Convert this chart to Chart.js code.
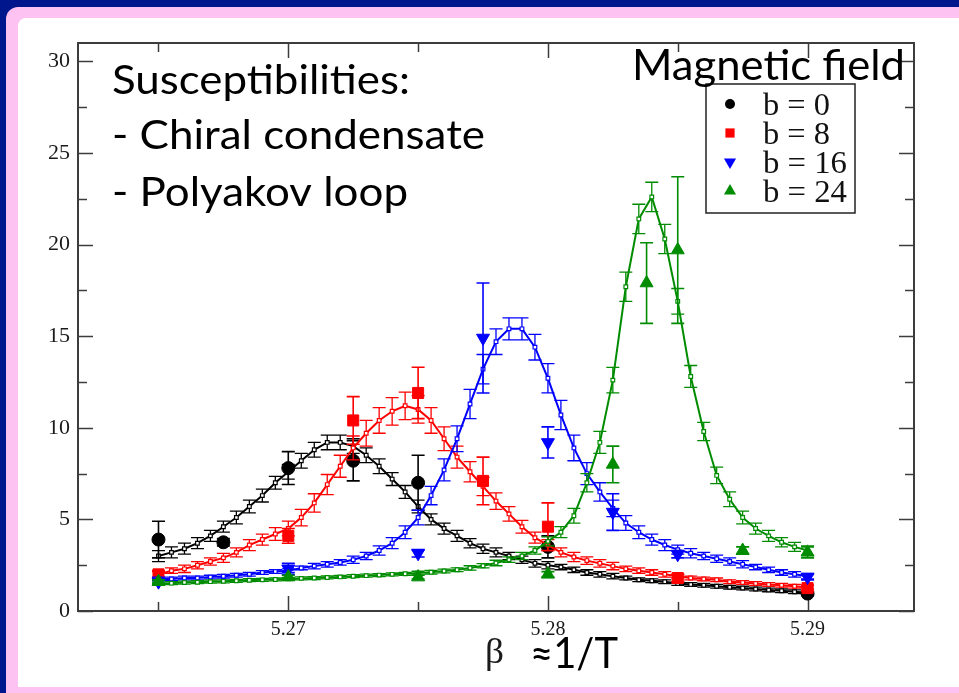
<!DOCTYPE html>
<html>
<head>
<meta charset="utf-8">
<script src="https://cdn.jsdelivr.net/npm/chart.js@4.4.1/dist/chart.umd.min.js"></script>
<style>
  html, body { margin: 0; padding: 0; background: #00168c; overflow: hidden; }
  canvas { display: block; }
</style>
</head>
<body>
<canvas id="chart" width="959" height="693"></canvas>
<script>
// beta grid of the reweighted susceptibility curves
const curveBeta = [5.265,5.2655,5.266,5.2665,5.267,5.2675,5.268,5.2685,5.269,5.2695,
                   5.27,5.2705,5.271,5.2715,5.272,5.2725,5.273,5.2735,5.274,5.2745,
                   5.275,5.2755,5.276,5.2765,5.277,5.2775,5.278,5.2785,5.279,5.2795,
                   5.28,5.2805,5.281,5.2815,5.282,5.2825,5.283,5.2835,5.284,5.2845,
                   5.285,5.2855,5.286,5.2865,5.287,5.2875,5.288,5.2885,5.289,5.2895,
                   5.29];

// reweighted curves and their errors, one per magnetic field
const curveB0 = [3.0,3.2,3.4,3.7,4.1,4.6,5.1,5.7,6.3,7.0,
                 7.6,8.2,8.8,9.2,9.2,9.0,8.5,7.9,7.2,6.5,
                 5.7,5.0,4.5,4.1,3.7,3.4,3.2,3.0,2.8,2.6,
                 2.5,2.4,2.25,2.1,2.0,1.9,1.8,1.7,1.65,1.6,
                 1.5,1.45,1.4,1.35,1.3,1.25,1.2,1.15,1.1,1.05,
                 1.0];
const curveB0Err = [0.3,0.3,0.3,0.3,0.3,0.3,0.35,0.35,0.35,0.35,
                    0.4,0.4,0.4,0.4,0.4,0.4,0.4,0.4,0.35,0.35,
                    0.35,0.3,0.3,0.3,0.25,0.25,0.25,0.2,0.2,0.2,
                    0.2,0.15,0.15,0.15,0.15,0.15,0.1,0.1,0.1,0.1,
                    0.1,0.1,0.1,0.1,0.1,0.1,0.1,0.1,0.1,0.1,
                    0.1];

const curveB8 = [2.0,2.2,2.3,2.5,2.7,2.9,3.2,3.6,3.9,4.2,
                 4.5,5.1,5.9,6.9,7.9,8.9,9.7,10.4,10.9,11.2,
                 11.0,10.4,9.4,8.4,7.6,6.8,6.0,5.3,4.6,4.0,
                 3.6,3.2,2.95,2.75,2.6,2.45,2.3,2.2,2.1,2.0,
                 1.9,1.8,1.75,1.7,1.6,1.55,1.5,1.45,1.4,1.35,
                 1.3];
const curveB8Err = [0.15,0.15,0.2,0.2,0.2,0.25,0.25,0.3,0.3,0.35,
                    0.4,0.45,0.5,0.55,0.6,0.65,0.7,0.7,0.75,0.75,
                    0.75,0.7,0.65,0.6,0.55,0.5,0.45,0.4,0.35,0.3,
                    0.3,0.25,0.25,0.2,0.2,0.2,0.15,0.15,0.15,0.15,
                    0.1,0.1,0.1,0.1,0.1,0.1,0.1,0.1,0.1,0.1,
                    0.1];

const curveB16 = [1.75,1.75,1.8,1.8,1.85,1.9,1.95,2.0,2.1,2.15,
                  2.2,2.35,2.45,2.55,2.65,2.8,3.0,3.3,3.7,4.3,
                  5.1,6.3,7.7,9.4,11.3,13.2,14.7,15.4,15.4,14.4,
                  12.7,10.7,8.9,7.5,6.5,5.6,4.8,4.3,3.9,3.6,
                  3.35,3.15,3.0,2.85,2.7,2.55,2.4,2.25,2.1,2.0,
                  1.9];
const curveB16Err = [0.1,0.1,0.1,0.1,0.1,0.1,0.1,0.1,0.1,0.1,
                     0.1,0.1,0.15,0.15,0.15,0.2,0.2,0.25,0.3,0.35,
                     0.4,0.5,0.6,0.7,0.8,0.8,0.7,0.6,0.6,0.7,
                     0.8,0.8,0.7,0.6,0.5,0.45,0.4,0.35,0.3,0.3,
                     0.25,0.25,0.2,0.2,0.2,0.2,0.15,0.15,0.15,0.15,
                     0.15];

const curveB24 = [1.5,1.52,1.55,1.57,1.6,1.62,1.65,1.68,1.7,1.72,
                  1.75,1.78,1.8,1.83,1.86,1.9,1.93,1.96,2.0,2.03,
                  2.07,2.12,2.18,2.25,2.35,2.47,2.62,2.8,3.0,3.3,
                  3.8,4.3,5.2,7.0,9.2,12.6,17.7,21.4,22.6,20.3,
                  16.9,12.8,9.8,7.4,6.1,5.1,4.5,4.1,3.75,3.5,
                  3.3];
const curveB24Err = [0.08,0.08,0.08,0.08,0.08,0.08,0.08,0.08,0.08,0.08,
                     0.08,0.08,0.08,0.08,0.08,0.08,0.08,0.08,0.08,0.08,
                     0.1,0.1,0.1,0.1,0.12,0.12,0.15,0.15,0.2,0.2,
                     0.25,0.3,0.4,0.5,0.6,0.7,0.8,0.8,0.8,0.8,
                     0.7,0.6,0.5,0.45,0.4,0.35,0.3,0.3,0.25,0.25,
                     0.25];

// simulation points with statistical errors
const simBetaB0 = [5.265, 5.2675, 5.27, 5.2725, 5.275, 5.28, 5.29];
const simB0     = [3.9,   3.75,   7.8,  8.2,    7.0,   3.5,  0.95];
const simB0Err  = [1.0,   0.2,    0.9,  1.1,    1.5,   0.6,  0.1];

const simBetaB8 = [5.265, 5.27, 5.2725, 5.275, 5.2775, 5.28, 5.285, 5.29];
const simB8     = [2.0,   4.1,  10.4,   11.9,  7.1,    4.6,  1.8,   1.25];
const simB8Err  = [0.2,   0.4,  1.3,    1.4,   1.3,    1.3,  0.2,   0.15];

const simBetaB16 = [5.265, 5.27, 5.275, 5.2775, 5.28, 5.2825, 5.285, 5.29];
const simB16     = [1.6,   2.3,  3.15,  14.9,   9.2,  5.4,    3.1,   1.85];
const simB16Err  = [0.1,   0.3,  0.2,   3.0,    0.85, 1.0,    0.2,   0.15];

const simBetaB24 = [5.265, 5.27, 5.275, 5.28, 5.2825, 5.2838, 5.285, 5.2875, 5.29];
const simB24     = [1.6,   1.85, 1.85,  2.0,  8.0,    17.9,   19.7,  3.3,    3.2];
const simB24Err  = [0.1,   0.1,  0.1,   0.15, 1.0,    2.2,    4.0,   0.2,    0.3];

const fieldLabels = ['b = 0', 'b = 8', 'b = 16', 'b = 24'];

const xMajorTicks = [5.27, 5.28, 5.29];
const xMinorTicks = [5.265, 5.275, 5.285];
const yMajorTicks = [0, 5, 10, 15, 20, 25, 30];
const yMinorTicks = [2.5, 7.5, 12.5, 17.5, 22.5, 27.5];

const titleLines = ['Susceptibilities:', '- Chiral condensate', '- Polyakov loop'];
const legendTitle = 'Magnetic field';
const axisSymbol = 'β';
const axisTitle = '≈1/T';

// per-field appearance
const fields = [
  { label: fieldLabels[0], color: '#000000', marker: 'circle',   rot: 0,   r: 6.5, curve: curveB0,  curveErr: curveB0Err,  simX: simBetaB0,  simY: simB0,  simErr: simB0Err },
  { label: fieldLabels[1], color: '#ff0000', marker: 'rect',     rot: 0,   r: 7.8, curve: curveB8,  curveErr: curveB8Err,  simX: simBetaB8,  simY: simB8,  simErr: simB8Err },
  { label: fieldLabels[2], color: '#0000ff', marker: 'triangle', rot: 180, r: 7.5, curve: curveB16, curveErr: curveB16Err, simX: simBetaB16, simY: simB16, simErr: simB16Err },
  { label: fieldLabels[3], color: '#008c00', marker: 'triangle', rot: 0,   r: 7.5, curve: curveB24, curveErr: curveB24Err, simX: simBetaB24, simY: simB24, simErr: simB24Err }
];

const datasets = [];
fields.forEach((f, i) => {
  datasets.push({
    label: f.label + ' (reweighted)',
    data: curveBeta.map((b, k) => ({ x: b, y: f.curve[k] })),
    errors: f.curveErr, capHalf: 6.5, errWidth: 1.3,
    showLine: true, borderColor: f.color, borderWidth: 2,
    pointStyle: 'rect', pointRadius: 2.6,
    pointBackgroundColor: '#ffffff', pointBorderColor: f.color, pointBorderWidth: 1.2,
    order: 8 - 2 * i
  });
  datasets.push({
    label: f.label,
    data: f.simX.map((b, k) => ({ x: b, y: f.simY[k] })),
    errors: f.simErr, capHalf: 6.5, errWidth: 1.6,
    showLine: false,
    pointStyle: f.marker, pointRotation: f.rot, pointRadius: f.r,
    pointBackgroundColor: f.color, pointBorderColor: f.color, pointBorderWidth: 1,
    order: 7 - 2 * i
  });
});

// slide background: navy with pink frame and white panel
const slideBackground = {
  id: 'slideBackground',
  beforeDraw(chart) {
    const ctx = chart.ctx;
    ctx.save();
    ctx.fillStyle = '#00168c';
    ctx.fillRect(0, 0, chart.width, chart.height);
    ctx.fillStyle = '#fdc2f1';
    ctx.beginPath();
    ctx.roundRect(6, 7, chart.width + 20, chart.height + 20, 12);
    ctx.fill();
    ctx.fillStyle = '#ffffff';
    ctx.beginPath();
    ctx.roundRect(18, 18, chart.width + 20, 687 - 18, [8, 0, 0, 0]);
    ctx.fill();
    ctx.restore();
  }
};

// boxed frame with inward ticks on all four sides
const frameTicks = {
  id: 'frameTicks',
  beforeDatasetsDraw(chart) {
    const { ctx, chartArea: a, scales: { x, y } } = chart;
    ctx.save();
    ctx.strokeStyle = '#3c3c3c';
    ctx.lineWidth = 1.5;
    ctx.beginPath();
    const xt = (v, len) => {
      const px = Math.round(x.getPixelForValue(v)) + 0.5;
      ctx.moveTo(px, a.bottom); ctx.lineTo(px, a.bottom - len);
      ctx.moveTo(px, a.top); ctx.lineTo(px, a.top + len);
    };
    const yt = (v, len) => {
      const py = Math.round(y.getPixelForValue(v)) + 0.5;
      ctx.moveTo(a.left, py); ctx.lineTo(a.left + len, py);
      ctx.moveTo(a.right, py); ctx.lineTo(a.right - len, py);
    };
    xMajorTicks.forEach(v => xt(v, 15));
    xMinorTicks.forEach(v => xt(v, 9));
    yMajorTicks.forEach(v => yt(v, 15));
    yMinorTicks.forEach(v => yt(v, 9));
    ctx.stroke();
    ctx.lineWidth = 2;
    ctx.strokeRect(a.left, a.top, a.right - a.left, a.bottom - a.top);
    ctx.restore();
  }
};

// vertical error bars drawn just beneath each dataset's markers
const errorBars = {
  id: 'errorBars',
  beforeDatasetDraw(chart, args) {
    const ds = chart.data.datasets[args.index];
    if (!ds.errors) return;
    const { ctx, chartArea: a, scales: { x, y } } = chart;
    ctx.save();
    ctx.beginPath();
    ctx.rect(a.left, a.top, a.right - a.left, a.bottom - a.top);
    ctx.clip();
    ctx.strokeStyle = ds.pointBorderColor;
    ctx.lineWidth = ds.errWidth;
    ctx.beginPath();
    ds.data.forEach((p, k) => {
      const e = ds.errors[k];
      const px = x.getPixelForValue(p.x);
      const y1 = y.getPixelForValue(p.y + e);
      const y2 = y.getPixelForValue(p.y - e);
      ctx.moveTo(px, y1); ctx.lineTo(px, y2);
      ctx.moveTo(px - ds.capHalf, y1); ctx.lineTo(px + ds.capHalf, y1);
      ctx.moveTo(px - ds.capHalf, y2); ctx.lineTo(px + ds.capHalf, y2);
    });
    ctx.stroke();
    ctx.restore();
  }
};

function fitText(ctx, text, x, y, width, font) {
  ctx.save();
  ctx.font = font;
  ctx.textAlign = 'left';
  ctx.textBaseline = 'alphabetic';
  const w = ctx.measureText(text).width;
  ctx.translate(x, y);
  ctx.scale(width / w, 1);
  ctx.fillText(text, 0, 0);
  ctx.restore();
}

function drawMarker(ctx, style, rot, x, y, r) {
  ctx.beginPath();
  if (style === 'circle') {
    ctx.arc(x, y, r, 0, Math.PI * 2);
  } else if (style === 'rect') {
    ctx.rect(x - r, y - r, 2 * r, 2 * r);
  } else {
    const s = rot ? -1 : 1;
    ctx.moveTo(x, y - s * r);
    ctx.lineTo(x + r * 0.866, y + s * r / 2);
    ctx.lineTo(x - r * 0.866, y + s * r / 2);
    ctx.closePath();
  }
  ctx.fill();
}

// legend box, panel text and axis title
const annotations = {
  id: 'annotations',
  afterDraw(chart) {
    const ctx = chart.ctx;
    ctx.save();
    // legend
    ctx.fillStyle = '#ffffff';
    ctx.fillRect(706, 84, 149, 129);
    ctx.strokeStyle = '#222222';
    ctx.lineWidth = 1.5;
    ctx.strokeRect(706, 84, 149, 129);
    const rowBase = [115, 144, 173, 202];
    const legendR = [5, 4.6, 7, 7];
    const legendW = [67, 67, 84, 84];
    fields.forEach((f, i) => {
      ctx.fillStyle = f.color;
      drawMarker(ctx, f.marker, f.rot, 730, rowBase[i] - 11, legendR[i]);
      ctx.fillStyle = '#111111';
      fitText(ctx, f.label, 763, rowBase[i], legendW[i], '31px "Liberation Serif", "DejaVu Serif", serif');
    });
    // panel text
    ctx.fillStyle = '#000000';
    const sans = 'Lato, "Open Sans", sans-serif';
    fitText(ctx, titleLines[0], 112, 94, 298, '40px ' + sans);
    fitText(ctx, titleLines[1], 112, 149, 373, '40px ' + sans);
    fitText(ctx, titleLines[2], 112, 206, 296, '40px ' + sans);
    fitText(ctx, legendTitle, 632, 80, 273, '42px ' + sans);
    // axis title
    ctx.fillStyle = '#1a1a1a';
    fitText(ctx, axisSymbol, 485, 663, 19, '35px "Liberation Serif", "DejaVu Serif", serif');
    ctx.fillStyle = '#000000';
    fitText(ctx, axisTitle, 530, 668, 88, '43px ' + sans);
    ctx.restore();
  }
};

new Chart(document.getElementById('chart'), {
  type: 'scatter',
  data: { datasets },
  options: {
    responsive: false,
    animation: false,
    events: [],
    layout: { padding: { left: 0, top: 43, right: 45, bottom: 0 } },
    plugins: { legend: { display: false }, tooltip: { enabled: false } },
    scales: {
      x: {
        type: 'linear',
        min: 5.2619,
        max: 5.2941,
        afterBuildTicks: s => { s.ticks = xMajorTicks.map(v => ({ value: v })); },
        afterFit: s => { s.height = 82; },
        grid: { display: false, drawTicks: false },
        border: { display: false },
        ticks: {
          autoSkip: false, maxRotation: 0, padding: 7,
          color: '#1a1a1a',
          font: { family: '"Liberation Serif", "DejaVu Serif", serif', size: 20 },
          callback: v => Number(v).toFixed(2)
        }
      },
      y: {
        type: 'linear',
        min: 0,
        max: 31,
        afterBuildTicks: s => { s.ticks = yMajorTicks.map(v => ({ value: v })); },
        afterFit: s => { s.width = 78; },
        grid: { display: false, drawTicks: false },
        border: { display: false },
        ticks: {
          autoSkip: false, padding: 8,
          color: '#1a1a1a',
          font: { family: '"Liberation Serif", "DejaVu Serif", serif', size: 22 },
          callback: v => String(v)
        }
      }
    }
  },
  plugins: [slideBackground, frameTicks, errorBars, annotations]
});
</script>
</body>
</html>
